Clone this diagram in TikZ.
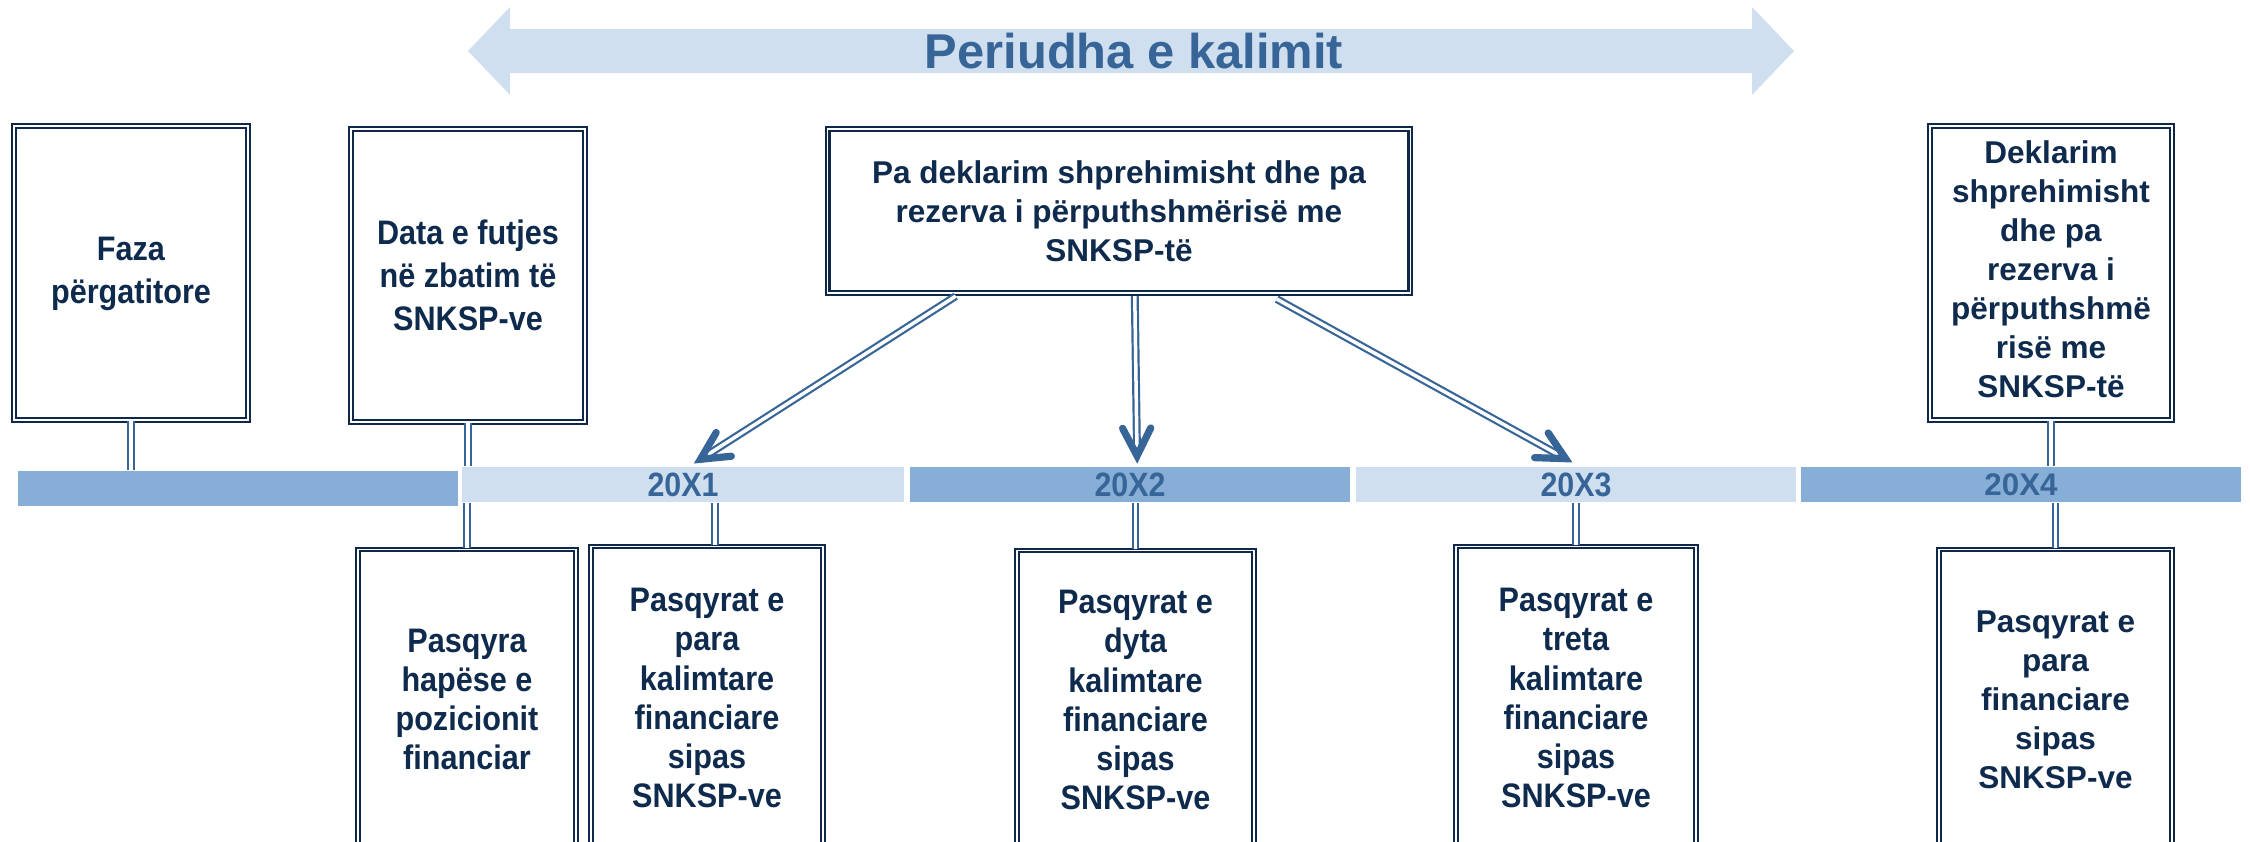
\documentclass[tikz,border=0pt]{standalone}
\usepackage{fontspec}
\setmainfont{Liberation Sans}
\newfontfamily\narrowfont{Liberation Sans}[FakeStretch=0.9]
\usetikzlibrary{calc}
\definecolor{boxnavy}{HTML}{0F284A}
\definecolor{txtnavy}{HTML}{0E2A4C}
\definecolor{connblue}{HTML}{386598}
\definecolor{darkbar}{HTML}{86AED6}
\definecolor{lightbar}{HTML}{D0DFEF}
\tikzset{
  frame/.style={draw=boxnavy, line width=0.21mm, double=white, double distance=0.12mm,
    fill=white, inner sep=0pt, align=center, text=txtnavy},
  nfont/.style={font=\narrowfont\bfseries\fontsize{9.67}{11.1}\selectfont},
  nfontw/.style={font=\narrowfont\bfseries\fontsize{9.67}{12.2}\selectfont},
  wfont/.style={font=\bfseries\fontsize{8.96}{11.1}\selectfont},
  bar/.style={inner sep=0pt, minimum height=3.5mm, text=connblue,
    font=\narrowfont\bfseries\fontsize{9.6}{10}\selectfont},
  dbl/.style={draw=connblue, line width=0.22mm, double=white, double distance=0.35mm},
  headst/.style={draw=connblue, line width=0.72mm, line cap=round, line join=miter},
}
\begin{document}
\begin{tikzpicture}[x=0.01cm, y=-0.01cm]
\useasboundingbox (0,0) rectangle (2250,842);
\clip (0,0) rectangle (2250,842);

% top double arrow
\fill[lightbar] (468,51) -- (510,7) -- (510,29) -- (1752,29) -- (1752,7) -- (1794,51)
  -- (1752,95) -- (1752,73) -- (510,73) -- (510,95) -- cycle;
\node[text=connblue, font=\bfseries\fontsize{13.9}{15}\selectfont] (title) at (1134,51) {Periudha e kalimit};

% upper boxes
\node[frame, nfontw, minimum width=23.4mm, minimum height=29.4mm] (faza) at (131,273) {\raisebox{-0.7mm}{\begin{tabular}{@{}c@{}}Faza\\përgatitore\end{tabular}}};
\node[frame, nfontw, minimum width=23.4mm, minimum height=29.3mm] (data) at (468,275.5) {Data e futjes\\në zbatim të\\SNKSP-ve};
\node[frame, wfont, minimum width=58.2mm, minimum height=16.4mm] (pa) at (1119,211) {Pa deklarim shprehimisht dhe pa\\rezerva i përputhshmërisë me\\SNKSP-të};
\node[frame, wfont, minimum width=24.2mm, minimum height=29.4mm] (dekl) at (2051,273) {\raisebox{-0.4mm}{\begin{tabular}{@{}c@{}}Deklarim\\shprehimisht\\dhe pa\\rezerva i\\përputhshmë\\risë me\\SNKSP-të\end{tabular}}};

% timeline bars
\node[bar, fill=darkbar, minimum width=44mm] (bar0) at (238,488.5) {};
\node[bar, fill=lightbar, minimum width=44.2mm] (bar1) at (683,484.5) {20X1};
\node[bar, fill=darkbar, minimum width=44mm] (bar2) at (1130,484.5) {20X2};
\node[bar, fill=lightbar, minimum width=44mm] (bar3) at (1576,484.5) {20X3};
\node[bar, fill=darkbar, minimum width=44mm, font=\bfseries\fontsize{8.9}{10}\selectfont] (bar4) at (2021,484.5) {20X4};

% lower boxes
\node[frame, nfont, minimum width=21.8mm, minimum height=30mm] (hapese) at (467,699.5) {Pasqyra\\hapëse e\\pozicionit\\financiar};
\node[frame, nfont, minimum width=23.2mm, minimum height=30.3mm] (para) at (707,698) {Pasqyrat e\\para\\kalimtare\\financiare\\sipas\\SNKSP-ve};
\node[frame, nfont, minimum width=23.7mm, minimum height=29.9mm] (dyta) at (1135.5,700) {Pasqyrat e\\dyta\\kalimtare\\financiare\\sipas\\SNKSP-ve};
\node[frame, nfont, minimum width=24mm, minimum height=30.3mm] (treta) at (1576,698) {Pasqyrat e\\treta\\kalimtare\\financiare\\sipas\\SNKSP-ve};
\node[frame, wfont, minimum width=23.3mm, minimum height=30mm] (fin) at (2055.5,699.5) {Pasqyrat e\\para\\financiare\\sipas\\SNKSP-ve};

% vertical connectors
\draw[dbl] (faza.south) -- (faza.south |- bar0.north);
\draw[dbl] (data.south) -- (data.south |- bar1.north);
\draw[dbl] (bar1.south -| hapese.north) -- (hapese.north);
\coordinate (c1) at (715,0);
\draw[dbl] (c1 |- bar1.south) -- (c1 |- para.north);
\draw[dbl] (bar2.south -| dyta.north) -- (dyta.north);
\draw[dbl] (bar3.south -| treta.north) -- (treta.north);
\draw[dbl] (dekl.south) -- (dekl.south |- bar4.north);
\draw[dbl] (bar4.south -| fin.north) -- (fin.north);

% arrows from the middle box
\path (pa.south west) ++(129,2) coordinate (s1);
\path (pa.south west) ++(308,2) coordinate (s2);
\path (pa.south west) ++(450,5) coordinate (s3);
\path (bar1.north west) ++(233,-3) coordinate (t1);
\path (bar2.north west) ++(228,-3) coordinate (t2);
\path (bar3.north west) ++(217,-4) coordinate (t3);
\foreach \i in {1,2,3}{
  \coordinate (h\i) at ($(t\i)!0.75mm!(s\i)$);
  \draw[dbl] (s\i) -- (h\i);
  \draw[headst] ($(h\i)!3.1mm!27:(s\i)$) -- (h\i) -- ($(h\i)!3.1mm!-27:(s\i)$);
}
\end{tikzpicture}
\end{document}
